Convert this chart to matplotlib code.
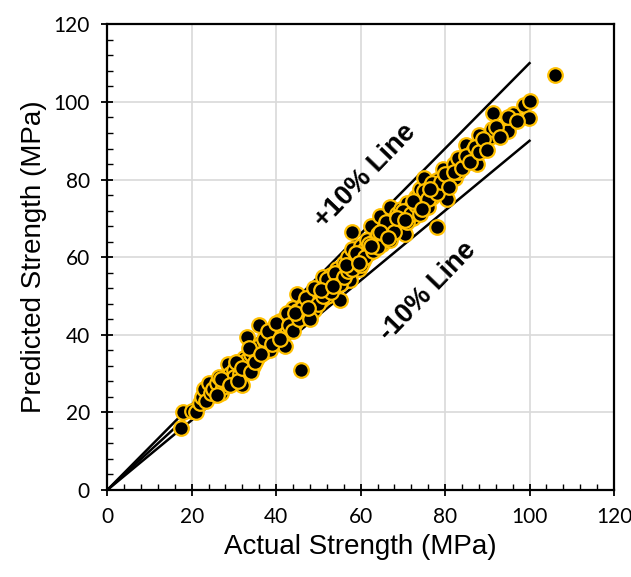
import numpy as np
import matplotlib.pyplot as plt
from matplotlib.ticker import MultipleLocator

# actual vs predicted strength (MPa)
actual = [17.5, 18, 20, 21, 22, 22.5, 23, 23.5, 24, 24.5, 25, 26, 26.5, 27, 27.5, 28, 28.5, 29,
          29.5, 30, 30, 31, 31.5, 32, 32.5, 33, 33, 34, 34.5, 35, 35.5, 36, 36, 37, 37.5, 38,
          38.5, 39, 39.5, 40, 40.5, 41, 41.5, 42, 42, 42.5, 43, 43.5, 44, 44.5, 45, 45, 45.9,
          46, 46.5, 47, 47.5, 48, 48.5, 49, 49.5, 50, 50.5, 51, 51.5, 52, 52.5, 53, 53.5, 54,
          54.5, 55, 55.5, 56, 56.5, 57, 57.5, 58, 58, 58.5, 59, 59.5, 60, 60.5, 61, 61.5, 62,
          62.5, 63, 63.5, 64, 64.5, 65, 65.5, 66, 66.5, 67, 67.5, 68, 68.5, 69, 69.5, 70, 70.5,
          71, 71.5, 72, 72.5, 73, 73.5, 74, 74.5, 75, 75.5, 76, 76.5, 77, 78, 78.1, 79, 79.5,
          80, 80.5, 81, 82, 82.4, 83, 84, 85, 86, 86.6, 87.5, 88, 89, 90.6, 91, 91.4, 94.9,
          96.1, 98.7, 99.9, 100.1, 106,
          26, 27, 29, 30.5, 31, 32, 33.5, 34, 35, 36.5, 37, 38, 39, 40, 41, 42.5, 43, 44, 45.5,
          46, 47, 48, 49, 50, 51, 52, 53, 54, 55, 56, 57, 58, 59, 60, 61, 62, 63, 64, 65, 66,
          67, 68, 69, 70, 71, 72, 73, 74, 75, 76, 77, 78, 79, 80, 81, 82, 83, 84, 85, 86, 87,
          88, 89, 90, 92, 93, 95, 97,
          44.5, 47.5, 50.5, 53.5, 56.5, 59.5, 62.5, 64.5, 66.5, 68.5, 70.5, 72.5, 74.5, 76.5]
predicted = [16, 20, 20.3, 20, 22.5, 24, 26, 23, 27.5, 25, 26, 27.5, 29, 25, 26.5, 28, 32.5, 30,
             28.5, 31, 29, 33, 30, 27, 34, 39.5, 33.5, 35, 32, 36, 34, 42.5, 37, 35.5, 38, 39,
             36, 40, 42, 38.5, 41, 43.5, 40, 44, 37, 42, 45, 41.5, 47, 43, 46, 50.5, 31,
             44.5, 48, 45.5, 49, 47, 50, 46.5, 48.5, 51, 49, 55, 52, 50, 53.5, 55.5, 52, 54,
             57, 49, 55, 58.5, 56, 60, 54, 62, 66.5, 58, 60.5, 57, 63, 59, 62, 64.5, 61,
             68, 64, 62, 66, 70.5, 63.5, 67, 65, 68.5, 73, 66, 69, 71, 67.5, 72.5, 70, 66,
             74, 71.5, 73, 70, 75.5, 72, 77.5, 74, 80.5, 76, 73, 78, 75.5, 80, 67.9, 77, 82.6,
             79, 75, 81, 84, 80.3, 82, 85, 89, 86, 87.4, 84, 91.5, 88, 91, 93, 97.2, 92.6,
             96.9, 99.2, 95.9, 100.3, 107,
             24.5, 28.5, 27, 33, 28, 31.5, 36.5, 30.5, 33, 35, 39, 41, 37.5, 43, 39, 45.5, 42.5,
             41, 44, 47, 49.5, 44, 52, 48, 50, 54.5, 51, 56, 53, 55, 56.5, 57, 61, 58, 60, 63.5,
             61.5, 62.5, 66.5, 69, 64.5, 66.5, 70.5, 72, 69, 71, 73.5, 71, 77, 75, 79, 76.5,
             79.5, 81.5, 78, 82, 85.5, 83, 86, 84.5, 88.5, 87, 90.5, 87.5, 93.5, 91, 96, 95,
             45.5, 47, 51.5, 52.5, 58, 58.5, 63, 66.5, 65, 70, 69.5, 74.5, 72.5, 77.5]

line_x = [0, 100]
upper = [0, 110]
equal = [0, 100]
lower = [0, 90]

fig = plt.figure(figsize=(6.31, 5.77), dpi=100)
ax = fig.add_axes([0.1700, 0.1508, 0.8030, 0.8070])

ax.plot(line_x, upper, color='black', lw=1.8, zorder=2)
ax.plot(line_x, equal, color='black', lw=1.8, zorder=2)
ax.plot(line_x, lower, color='black', lw=1.8, zorder=2)
ax.scatter(actual, predicted, s=110, facecolor='black', edgecolor='#FFC000', linewidth=1.6, zorder=3)

ax.set_xlim(0, 120)
ax.set_ylim(0, 120)
ax.xaxis.set_major_locator(MultipleLocator(20))
ax.yaxis.set_major_locator(MultipleLocator(20))
ax.xaxis.set_minor_locator(MultipleLocator(4))
ax.yaxis.set_minor_locator(MultipleLocator(4))
ax.grid(True, which='major', color='#d9d9d9', lw=1.2, zorder=0)
ax.set_axisbelow(True)
ax.tick_params(which='major', direction='inout', length=9, width=1.3, labelsize=15, pad=8)
ax.tick_params(which='minor', direction='in', length=4, width=1.0)
for lab in ax.get_xticklabels() + ax.get_yticklabels():
    lab.set_fontfamily('Lato')
for sp in ax.spines.values():
    sp.set_linewidth(1.6)

ax.set_xlabel('Actual Strength (MPa)', fontsize=20, family='Liberation Sans', labelpad=5)
ax.set_ylabel('Predicted Strength (MPa)', fontsize=20, family='Liberation Sans', labelpad=5)

ax.text(61, 81, '+10% Line', rotation=46, fontsize=19.5, fontweight='bold', family='Liberation Sans',
        ha='center', va='center')
ax.text(76, 51, '-10% Line', rotation=46, fontsize=19.5, fontweight='bold', family='Liberation Sans',
        ha='center', va='center')

fig.savefig('out.png', dpi=100)
